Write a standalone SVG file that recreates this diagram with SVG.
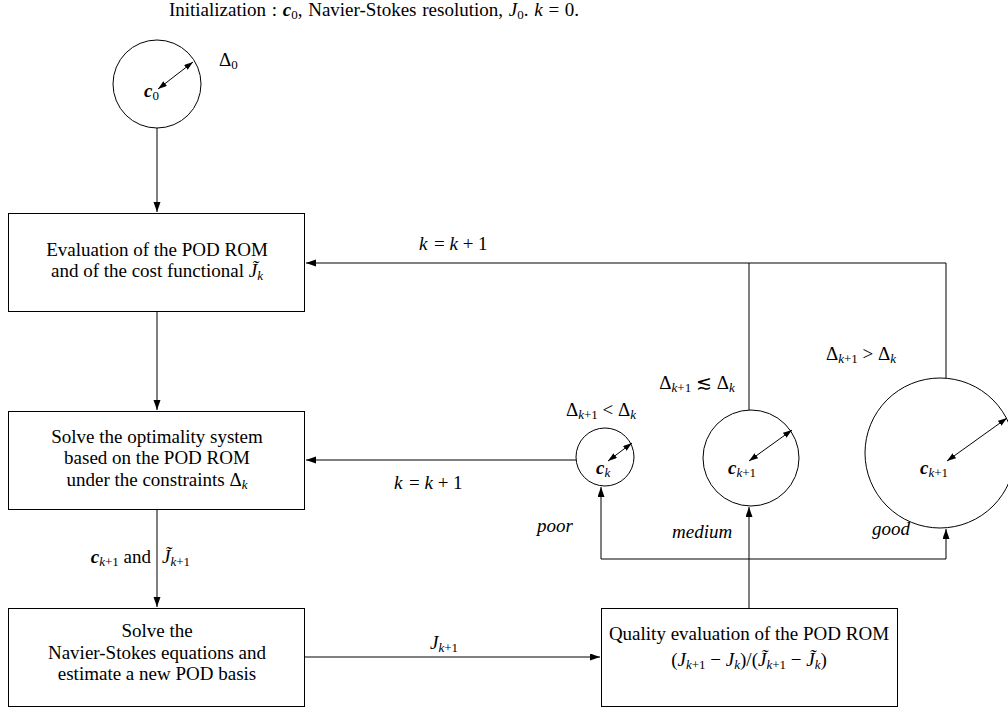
<svg xmlns="http://www.w3.org/2000/svg" width="1008" height="711" viewBox="0 0 1008 711">
<defs>
<marker id="ah" markerUnits="userSpaceOnUse" markerWidth="11" markerHeight="8" refX="10" refY="3.5" orient="auto-start-reverse">
<path d="M0,0 L10,3.5 L0,7 z" fill="#000"/>
</marker>
<marker id="ah2" markerUnits="userSpaceOnUse" markerWidth="10" markerHeight="8" refX="9" refY="3" orient="auto-start-reverse">
<path d="M0,0 L9,3 L0,6 z" fill="#000"/>
</marker>
</defs>
<style>
text{font-family:"Liberation Serif","DejaVu Serif",serif;font-size:19px;fill:#000}
.c{text-anchor:middle}
.e{text-anchor:end}
.i{font-style:italic}
.b{font-weight:bold;font-style:italic}
.s{font-size:13px}
.box{fill:#fff;stroke:#000;stroke-width:1}
.circ{fill:#fff;stroke:#000;stroke-width:1}
.ln{fill:none;stroke:#000;stroke-width:1}
</style>
<rect width="1008" height="711" fill="#fff"/>

<text id="init" class="c" x="374" y="16" word-spacing="1">Initialization : <tspan class="b">c</tspan><tspan class="s" dy="3">0</tspan><tspan dy="-3">, Navier-Stokes resolution, </tspan><tspan class="i">J</tspan><tspan class="s" dy="3">0</tspan><tspan dy="-3">. </tspan><tspan class="i">k</tspan> = 0.</text>

<g id="connectors">
<path class="ln" d="M157,128 V212" marker-end="url(#ah)"/>
<path class="ln" d="M157,311 V410" marker-end="url(#ah)"/>
<path class="ln" d="M157,509 V607" marker-end="url(#ah)"/>
<path class="ln" d="M305,657 H600" marker-end="url(#ah)"/>
<path class="ln" d="M749,608 V507" marker-end="url(#ah)"/>
<path class="ln" d="M749,559 H601 V487" marker-end="url(#ah)"/>
<path class="ln" d="M749,559 H946 V529" marker-end="url(#ah)"/>
<path class="ln" d="M576,460 H306" marker-end="url(#ah)"/>
<path class="ln" d="M749,410 V263" />
<path class="ln" d="M946,379 V263 H306" marker-end="url(#ah)"/>
<text class="i" x="419" y="250">k</text><text x="434" y="250">= <tspan class="i">k</tspan> + 1</text>
<text class="i" x="394" y="489">k</text><text x="409" y="489">= <tspan class="i">k</tspan> + 1</text>
<text class="e" x="151" y="563"><tspan class="b">c</tspan><tspan class="s i" dy="3">k</tspan><tspan class="s" >+1</tspan><tspan dy="-3"> and</tspan></text>
<text x="162" y="563"><tspan class="i">J&#x303;</tspan><tspan class="s i" dy="3">k</tspan><tspan class="s">+1</tspan></text>
<text x="430" y="649"><tspan class="i">J</tspan><tspan class="s i" dy="3">k</tspan><tspan class="s">+1</tspan></text>
<text class="i" x="537" y="532">poor</text>
<text class="i" x="672" y="538">medium</text>
<text class="i" x="872" y="535">good</text>
</g>

<g id="c0">
<circle class="circ" cx="157" cy="84" r="44"/>
<path class="ln" d="M158,89 L193,62" marker-start="url(#ah2)" marker-end="url(#ah2)"/>
<text x="144" y="97"><tspan class="b">c</tspan><tspan class="s" dy="3">0</tspan></text>
<text x="219" y="66">Δ<tspan class="s" dy="3">0</tspan></text>
</g>

<g id="box1">
<rect class="box" x="8.5" y="213.5" width="296" height="98"/>
<text class="c" x="157" y="256">Evaluation of the POD ROM</text>
<text class="c" x="157" y="277">and of the cost functional <tspan class="i">J&#x303;</tspan><tspan class="s i" dy="3">k</tspan></text>
</g>

<g id="box2">
<rect class="box" x="8.5" y="411.5" width="296" height="98"/>
<text class="c" x="157" y="443">Solve the optimality system</text>
<text class="c" x="157" y="464">based on the POD ROM</text>
<text class="c" x="157" y="486">under the constraints Δ<tspan class="s i" dy="3">k</tspan></text>
</g>

<g id="box3">
<rect class="box" x="8.5" y="608.5" width="296" height="98"/>
<text class="c" x="157" y="637">Solve the</text>
<text class="c" x="157" y="659">Navier-Stokes equations and</text>
<text class="c" x="157" y="680">estimate a new POD basis</text>
</g>

<g id="box4">
<rect class="box" x="601.5" y="608.5" width="296" height="98"/>
<text class="c" x="749" y="640">Quality evaluation of the POD ROM</text>
<text class="c" x="749" y="666">(<tspan class="i">J</tspan><tspan class="s i" dy="3">k</tspan><tspan class="s">+1</tspan><tspan dy="-3"> − </tspan><tspan class="i">J</tspan><tspan class="s i" dy="3">k</tspan><tspan dy="-3">)/(</tspan><tspan class="i">J&#x303;</tspan><tspan class="s i" dy="3">k</tspan><tspan class="s">+1</tspan><tspan dy="-3"> − </tspan><tspan class="i">J&#x303;</tspan><tspan class="s i" dy="3">k</tspan><tspan dy="-3">)</tspan></text>
</g>

<g id="ck">
<circle class="circ" cx="605" cy="457" r="29"/>
<path class="ln" d="M608,461 L632,443" marker-start="url(#ah2)" marker-end="url(#ah2)"/>
<text x="596" y="474"><tspan class="b">c</tspan><tspan class="s i" dy="3">k</tspan></text>
<text class="c" x="601" y="416">Δ<tspan class="s i" dy="3">k</tspan><tspan class="s">+1</tspan><tspan dy="-3"> &lt; Δ</tspan><tspan class="s i" dy="3">k</tspan></text>
</g>

<g id="cmedium">
<circle class="circ" cx="751" cy="458" r="48"/>
<path class="ln" d="M749,461 L792,430" marker-start="url(#ah2)" marker-end="url(#ah2)"/>
<text x="728" y="474"><tspan class="b">c</tspan><tspan class="s i" dy="3">k</tspan><tspan class="s">+1</tspan></text>
<text class="c" x="697" y="389">Δ<tspan class="s i" dy="3">k</tspan><tspan class="s">+1</tspan><tspan dy="-3"> ≲ Δ</tspan><tspan class="s i" dy="3">k</tspan></text>
</g>

<g id="cgood">
<circle class="circ" cx="940" cy="453" r="75"/>
<path class="ln" d="M947,461 L1007,418" marker-start="url(#ah2)" marker-end="url(#ah2)"/>
<text x="920" y="474"><tspan class="b">c</tspan><tspan class="s i" dy="3">k</tspan><tspan class="s">+1</tspan></text>
<text class="c" x="861" y="360">Δ<tspan class="s i" dy="3">k</tspan><tspan class="s">+1</tspan><tspan dy="-3"> &gt; Δ</tspan><tspan class="s i" dy="3">k</tspan></text>
</g>
</svg>
